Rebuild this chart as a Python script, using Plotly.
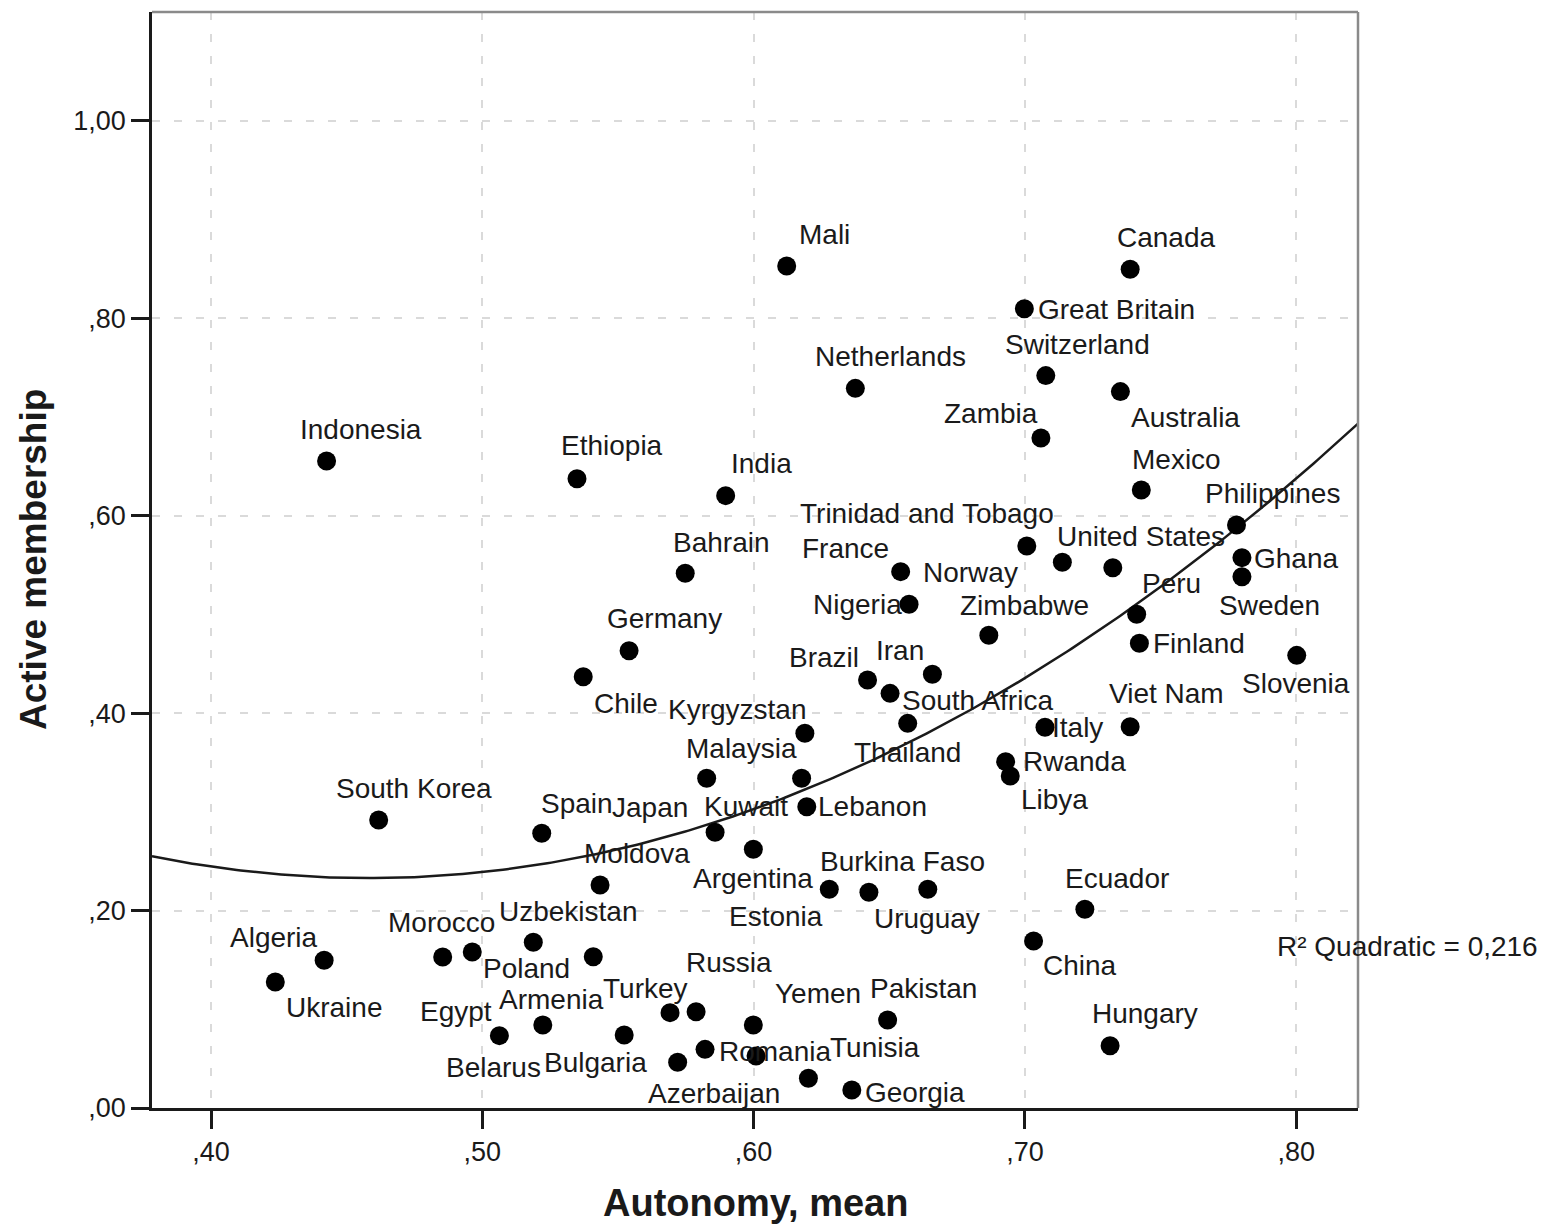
import numpy as np
import plotly.graph_objects as go

# Country-level means: autonomy (x) and active membership (y)
countries = [
    "Indonesia", "Ethiopia", "India", "Mali", "Netherlands", "Great Britain", "Canada",
    "Switzerland", "Australia", "Zambia", "Mexico", "Philippines", "Trinidad and Tobago",
    "Bahrain", "France", "Norway", "United States", "Ghana", "Sweden", "Peru", "Nigeria",
    "Zimbabwe", "Germany", "Finland", "Slovenia", "Chile", "Brazil", "Iran", "South Africa",
    "Thailand", "Kyrgyzstan", "Italy", "Viet Nam", "Malaysia", "Kuwait", "Rwanda", "Libya",
    "South Korea", "Spain", "Lebanon", "Japan", "Argentina", "Moldova", "Estonia", "Uruguay",
    "Burkina Faso", "Ecuador", "China", "Uzbekistan", "Algeria", "Ukraine", "Morocco",
    "Poland", "Armenia", "Turkey", "Russia", "Bulgaria", "Yemen", "Pakistan", "Romania",
    "Azerbaijan", "", "Tunisia", "Georgia", "Belarus", "Egypt", "Hungary",
]
autonomy = [
    0.4426, 0.5349, 0.5897, 0.6122, 0.6375, 0.6998, 0.7388,
    0.7077, 0.7352, 0.7059, 0.7429, 0.7780, 0.7007,
    0.5748, 0.6542, 0.7138, 0.7324, 0.7800, 0.7800, 0.7412, 0.6573,
    0.6867, 0.5541, 0.7422, 0.8002, 0.5372, 0.6420, 0.6659, 0.6503,
    0.6568, 0.6189, 0.7074, 0.7388, 0.5827, 0.6177, 0.6929, 0.6946,
    0.4618, 0.5219, 0.6196, 0.5858, 0.5999, 0.5434, 0.6279, 0.6425,
    0.6642, 0.7221, 0.7032, 0.5188, 0.4417, 0.4237, 0.4854,
    0.4963, 0.5409, 0.5692, 0.5788, 0.5523, 0.5999, 0.6494, 0.5821,
    0.5720, 0.6009, 0.6202, 0.6362, 0.5223, 0.5063, 0.7314,
]
membership = [
    0.6555, 0.6376, 0.6204, 0.8531, 0.7291, 0.8098, 0.8497,
    0.7420, 0.7258, 0.6788, 0.6261, 0.5907, 0.5694,
    0.5417, 0.5434, 0.5529, 0.5474, 0.5576, 0.5383, 0.5002, 0.5103,
    0.4789, 0.4633, 0.4708, 0.4586, 0.4370, 0.4336, 0.4394, 0.4201,
    0.3897, 0.3796, 0.3857, 0.3863, 0.3340, 0.3340, 0.3509, 0.3364,
    0.2918, 0.2783, 0.3053, 0.2793, 0.2621, 0.2259, 0.2216, 0.2185,
    0.2216, 0.2013, 0.1692, 0.1679, 0.1496, 0.1277, 0.1530,
    0.1580, 0.1533, 0.0966, 0.0976, 0.0740, 0.0841, 0.0892, 0.0594,
    0.0463, 0.0527, 0.0301, 0.0182, 0.0841, 0.0733, 0.0631,
]

x_tick_vals = [0.40, 0.50, 0.60, 0.70, 0.80]
x_tick_text = [",40", ",50", ",60", ",70", ",80"]
y_tick_vals = [0.0, 0.2, 0.4, 0.6, 0.8, 1.0]
y_tick_text = [",00", ",20", ",40", ",60", ",80", "1,00"]

# Label placement: pixel offset of each label's left edge / vertical centre from its marker
label_dx = [
    -29, -18, 3, 10, -42, 12, -15,
    -43, 9, -99, -11, -34, -229,
    -14, -101, -141, -58, 10, -25, 3, -98,
    -31, -24, 12, -57, 9, -81, -58, 10,
    -56, -139, 5, -23, -23, -100, 15, 9,
    -45, -3, 9, -105, -62, -18, -102, 3,
    -110, -22, 7, -36, -96, 9, -57,
    9, -96, -69, -12, -82, 20, -20, 12,
    -32, 0, 20, 11, -99, -81, -20,
]
label_dy = [
    -32, -33, -32, -31, -32, 1, -32,
    -31, 26, -25, -31, -31, -32,
    -31, -23, 10, -31, 1, 29, -31, 0,
    -30, -32, 0, 28, 27, -23, -24, 7,
    29, -24, 0, -33, -30, 28, 0, 24,
    -31, -30, 0, -25, 29, -32, 27, 26,
    -28, -31, 25, -31, -23, 26, -34,
    16, 43, -24, -49, 28, -31, -31, 2,
    31, 0, -31, 2, 43, -24, -32,
]

X_RANGE = [0.37825, 0.82278]
Y_RANGE = [0.0, 1.1104]
FONT = "Liberation Sans, Arial, sans-serif"
INK = "#1a1a1a"

fig = go.Figure()

# Quadratic fit line across the full x range
coef = np.polyfit(np.array(autonomy), np.array(membership), 2)
xs = np.linspace(X_RANGE[0], X_RANGE[1], 300)
fig.add_trace(go.Scatter(
    x=xs, y=np.polyval(coef, xs), mode="lines",
    line=dict(color=INK, width=2.5), hoverinfo="skip", showlegend=False,
))

fig.add_trace(go.Scatter(
    x=autonomy, y=membership, mode="markers",
    marker=dict(size=19, color="black"),
    text=countries, hoverinfo="text", showlegend=False,
))

annotations = []
for name, xv, yv, dx, dy in zip(countries, autonomy, membership, label_dx, label_dy):
    if not name:
        continue
    annotations.append(dict(
        x=xv, y=yv, xref="x", yref="y", text=name, showarrow=False,
        xanchor="left", yanchor="middle", xshift=dx, yshift=-dy,
        font=dict(family=FONT, size=28, color=INK),
    ))

annotations.append(dict(
    x=0.9312, y=0.1469, xref="paper", yref="paper", text="R² Quadratic = 0,216",
    showarrow=False, xanchor="left", yanchor="middle",
    font=dict(family=FONT, size=28, color=INK),
))
annotations.append(dict(
    x=0.5, y=0, xref="paper", yref="paper", text="Autonomy, mean",
    showarrow=False, xanchor="center", yanchor="middle", yshift=-95,
    font=dict(family=FONT, size=38, color=INK, weight="bold"),
))
annotations.append(dict(
    x=0, y=0.5, xref="paper", yref="paper", text="Active membership",
    showarrow=False, xanchor="center", yanchor="middle", xshift=-119, textangle=-90,
    font=dict(family=FONT, size=37, color=INK, weight="bold"),
))

axis_common = dict(
    showgrid=True, gridcolor="#dadada", gridwidth=1.5, griddash="8px,14px",
    zeroline=False, showline=True, linecolor=INK, linewidth=2.5,
    ticks="outside", ticklen=18, tickwidth=2.5, tickcolor=INK,
    tickfont=dict(family=FONT, size=27, color=INK),
)

fig.update_layout(
    width=1551, height=1225, autosize=False,
    margin=dict(l=152, r=193, t=12, b=117),
    paper_bgcolor="white", plot_bgcolor="white",
    xaxis=dict(range=X_RANGE, tickvals=x_tick_vals, ticktext=x_tick_text, **axis_common),
    yaxis=dict(range=Y_RANGE, tickvals=y_tick_vals, ticktext=y_tick_text, **axis_common),
    annotations=annotations,
    shapes=[
        dict(type="line", xref="paper", yref="paper", x0=0, x1=1, y0=1, y1=1,
             line=dict(color="#8a8a8a", width=2.5)),
        dict(type="line", xref="paper", yref="paper", x0=1, x1=1, y0=0, y1=1,
             line=dict(color="#8a8a8a", width=2.5)),
    ],
)

fig.write_html("out.html")
